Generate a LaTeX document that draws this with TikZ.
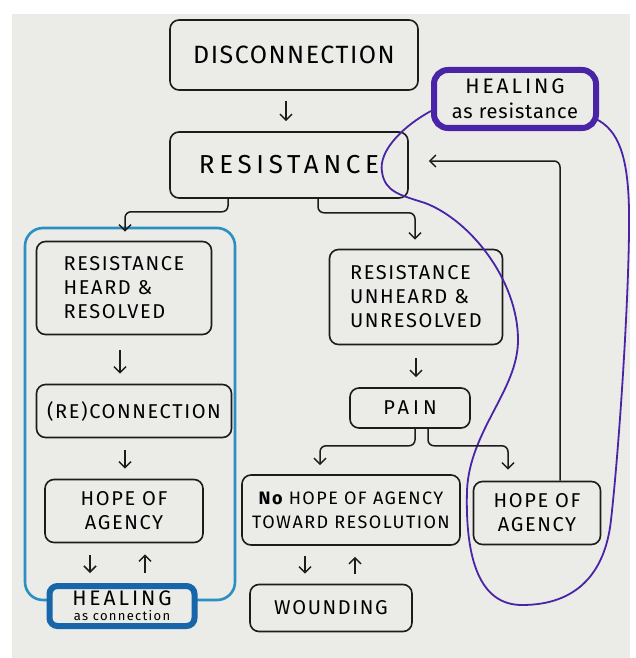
\documentclass[tikz,border=0pt]{standalone}
\usepackage{fontspec}
\setmainfont{Fira Sans}[LetterSpace=8]
\usetikzlibrary{arrows.meta}
\definecolor{paper}{HTML}{EBEBE8}
\definecolor{ink}{HTML}{1C1C1C}
\definecolor{violetpen}{HTML}{4A24A6}
\definecolor{bluepen}{HTML}{2A90C2}
\definecolor{darkbluepen}{HTML}{1766AA}
\begin{document}
\begin{tikzpicture}[x=1pt,y=-1pt,
  box/.style={draw=ink, line width=1.6pt, rounded corners=9pt, align=center,
    inner sep=2pt, font=\fontsize{20}{24}\selectfont},
  arr/.style={draw=ink, line width=1.5pt, -{Straight Barb[length=6pt,width=12pt]}},
  loopline/.style={draw=violetpen, line width=1.8pt}]
\useasboundingbox (0,0) rectangle (635,658);
\fill[white] (0,0) rectangle (635,658);
\fill[paper] (12,14) rectangle (630,658);

% group frame
\node[draw=bluepen, line width=2.6pt, rounded corners=18pt, minimum width=210pt, minimum height=372pt] (grp) at (130,414) {};

% nodes
\node[box, font=\fontsize{25}{30}\selectfont\addfontfeature{LetterSpace=6}, minimum width=248pt, minimum height=70pt] (dis) at (294,55) {DISCONNECTION};
\node[box, font=\fontsize{26}{30}\selectfont\addfontfeature{LetterSpace=18}, minimum width=238pt, minimum height=66pt] (res) at (289,165) {RESISTANCE};
\node[box, align=left, minimum width=175pt, minimum height=93pt] (rhr) at (124,288) {RESISTANCE\\HEARD \&\\RESOLVED};
\node[box, minimum width=195pt, minimum height=53pt] (recon) at (134,411) {(RE)CONNECTION};
\node[box, minimum width=158pt, minimum height=63pt] (hopeL) at (124,511) {HOPE OF\\AGENCY};
\node[draw=darkbluepen, line width=6pt, rounded corners=8pt, fill=paper, align=center, inner sep=0pt,
  minimum width=145pt, minimum height=40pt, font=\fontsize{21}{15}\selectfont\addfontfeature{LetterSpace=14}] (healC) at (122,606)
  {HEALING\\{\fontsize{13}{15}\selectfont\addfontfeature{LetterSpace=10}as connection}};
\node[box, align=left, minimum width=173pt, minimum height=95pt] (run) at (416,297) {RESISTANCE\\UNHEARD \&\\UNRESOLVED};
\node[box, minimum width=120pt, minimum height=40pt, font=\fontsize{20}{24}\selectfont\addfontfeature{LetterSpace=20}] (pain) at (410,408) {PAIN};
\node[box, font=\fontsize{18}{24}\selectfont, minimum width=218pt, minimum height=70pt] (nohope) at (351,510) {{\bfseries No} HOPE OF AGENCY\\TOWARD RESOLUTION};
\node[box, minimum width=162pt, minimum height=47pt] (wound) at (331,608) {WOUNDING};
\node[box, minimum width=127pt, minimum height=63pt] (hopeR) at (537,513) {HOPE OF\\AGENCY};
\node[draw=violetpen, line width=6pt, rounded corners=14pt, align=center, inner sep=0pt,
  minimum width=162pt, minimum height=58pt, font=\fontsize{21}{25}\selectfont\addfontfeature{LetterSpace=14}] (healR) at (515,99)
  {HEALING\\{\fontsize{20}{25}\selectfont\addfontfeature{LetterSpace=4}as resistance}};

% purple loop
\coordinate (lpA) at ([yshift=-12pt]healR.west);
\coordinate (lpB) at ([xshift=-3pt,yshift=-20pt]healR.east);
\draw[loopline] (lpA) .. controls (405,125) and (378,150) .. (382,172)
  .. controls (385,192) and (400,195) .. (425,203)
  .. controls (470,220) and (518,280) .. (518,340)
  .. controls (518,390) and (470,430) .. (467,490)
  .. controls (465,560) and (480,605) .. (522,605)
  .. controls (575,605) and (605,575) .. (611,520)
  .. controls (620,440) and (630,280) .. (629,210)
  .. controls (628,155) and (618,130) .. (lpB);

% arrows
\draw[arr, shorten <=10pt, shorten >=10pt] ([xshift=-8pt]dis.south) -- ([xshift=-8pt]dis.south |- res.north);
\draw[arr, rounded corners=6pt] ([xshift=-61pt]res.south) -- ++(0,13) -| ([xshift=1pt,yshift=9pt]rhr.north);
\draw[arr, rounded corners=6pt] ([xshift=29pt]res.south) -- ++(0,14) -| ([xshift=-1pt,yshift=9pt]run.north);
\draw[arr, shorten <=15pt, shorten >=10pt] ([xshift=-4pt]rhr.south) -- ([xshift=-4pt]rhr.south |- recon.north);
\draw[arr, shorten <=12pt, shorten >=10pt] ([xshift=1pt]hopeL.north |- recon.south) -- ([xshift=1pt]hopeL.north);
\draw[arr, shorten <=12pt, shorten >=10pt] ([xshift=-34pt]hopeL.south) -- ([xshift=-34pt]hopeL.south |- healC.north);
\draw[arr, shorten <=10pt, shorten >=11pt] ([xshift=21pt]hopeL.south |- healC.north) -- ([xshift=21pt]hopeL.south);
\draw[arr, shorten <=13pt, shorten >=10pt] (run.south) -- (run.south |- pain.north);
\draw[arr, rounded corners=6pt] ([xshift=5pt]pain.south) -- ++(0,17) -| ([xshift=-31pt,yshift=9pt]nohope.north);
\draw[arr, rounded corners=6pt] ([xshift=18pt]pain.south) -- ++(0,17) -| ([xshift=-29pt,yshift=11pt]hopeR.north);
\draw[arr, shorten <=10pt, shorten >=10pt] ([xshift=-46pt]nohope.south) -- ([xshift=-46pt]nohope.south |- wound.north);
\draw[arr, shorten <=10pt, shorten >=11pt] ([xshift=4pt]nohope.south |- wound.north) -- ([xshift=4pt]nohope.south);
\draw[arr, rounded corners=6pt] ([xshift=23pt]hopeR.north) |- ([xshift=20pt,yshift=4pt]res.east);
\end{tikzpicture}
\end{document}
